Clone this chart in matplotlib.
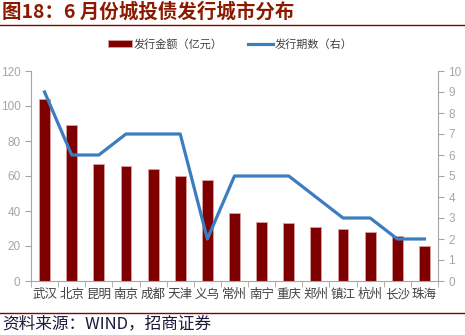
import numpy as np
import matplotlib.pyplot as plt

plt.rcParams['font.family'] = ['Noto Sans CJK SC', 'DejaVu Sans']

cities = ['武汉', '北京', '昆明', '南京', '成都', '天津', '义乌', '常州',
          '南宁', '重庆', '郑州', '镇江', '杭州', '长沙', '珠海']
amount = [104, 89, 67, 66, 64, 60, 58, 39, 34, 33, 31, 30, 28, 26, 20]
count = [9, 6, 6, 7, 7, 7, 2, 5, 5, 5, 4, 3, 3, 2, 2]

bar_color = '#7F0000'
line_color = '#3A7DC0'
gray = '#A6A6A6'
title_color = '#8B1A00'

fig = plt.figure(figsize=(4.65, 3.35), dpi=100)
ax = fig.add_axes([31 / 465, 1 - 281 / 335, (438 - 31) / 465, (281 - 71) / 335])
ax2 = ax.twinx()

x = np.arange(len(cities))
ax.bar(x, amount, width=0.4, color=bar_color, edgecolor='#D9A0A0', linewidth=0.6,
       label='发行金额（亿元）', zorder=2)
ax2.plot(x, count, color=line_color, linewidth=2.3, label='发行期数（右）', zorder=3)

ax.set_xlim(-0.5, len(cities) - 0.5)
ax.set_ylim(0, 120)
ax.set_yticks(range(0, 121, 20))
ax2.set_ylim(0, 10)
ax2.set_yticks(range(0, 11))

ax.set_xticks(x)
ax.set_xticklabels(cities, fontsize=9, color='#404040')
ax.set_xticks(np.arange(-0.5, len(cities), 1), minor=True)
ax.tick_params(axis='x', which='major', length=0, pad=5)
ax.tick_params(axis='x', which='minor', length=4, color=gray)
ax.tick_params(axis='y', labelsize=8.5, labelcolor=gray, color=gray, length=4)
ax2.tick_params(axis='y', labelsize=8.5, labelcolor=gray, color=gray, length=4)
for lbl in ax.get_yticklabels() + ax2.get_yticklabels():
    lbl.set_family('Liberation Sans')

for a in (ax, ax2):
    a.spines['top'].set_visible(False)
    for s in ('left', 'right', 'bottom'):
        a.spines[s].set_color(gray)
ax.spines['right'].set_visible(False)
ax2.spines['left'].set_visible(False)
ax2.spines['bottom'].set_visible(False)
ax.set_zorder(ax2.get_zorder() - 1)
ax.patch.set_visible(False)
ax2.patch.set_visible(False)

# legend across the top
h1, l1 = ax.get_legend_handles_labels()
h2, l2 = ax2.get_legend_handles_labels()
fig.legend(h1 + h2, l1 + l2, loc='center', bbox_to_anchor=(230 / 465, 1 - 44 / 335), ncol=2,
           frameon=False, fontsize=8, handlelength=2.2, handleheight=0.6,
           columnspacing=2.3, handletextpad=0.15, labelcolor='#404040')

# title and source
fig.text(0.005, 1 - 12 / 335, '图18：6 月份城投债发行城市分布', fontsize=14, fontweight='bold',
         color=title_color, va='center', ha='left')
fig.add_artist(plt.Line2D([0, 1], [1 - 25 / 335, 1 - 25 / 335], color='#8B0000', linewidth=1))
fig.add_artist(plt.Line2D([0, 1], [1 - 313 / 335, 1 - 313 / 335], color='#8B0000', linewidth=1))
fig.text(0.005, 1 - 324 / 335, '资料来源：WIND，招商证券', fontsize=12, color='#1A1A3A',
         va='center', ha='left')

fig.savefig('out.png', dpi=100)
